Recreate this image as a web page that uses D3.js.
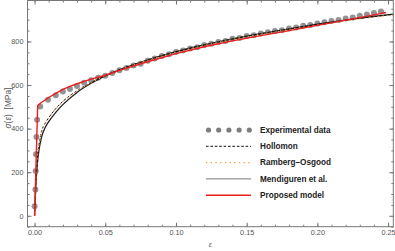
<!DOCTYPE html>
<html>
<head>
<meta charset="utf-8">
<script src="https://cdn.jsdelivr.net/npm/d3@7"></script>
<style>
  body { margin: 0; background: #fff; }
  svg { display: block; font-family: "Liberation Sans", Arial, sans-serif; }
  .tick text { fill: #555; font-size: 7.3px; }
  .tick line { stroke: #777; }
  .domain { display: none; }
</style>
</head>
<body>
<div id="chart"></div>
<script>
const FRAME_WIDTH = 395;
const FRAME_HEIGHT = 251;
const PLOT = {left: 27.5, right: 393.3, top: 0.5, bottom: 226.7};

// experimental points
const exp_strain = [0.0000, 0.0006, 0.0008, 0.0010, 0.0013, 0.0018, 0.004, 0.0095, 0.015, 0.020, 0.025, 0.030,
  0.035, 0.040, 0.045, 0.050, 0.055, 0.060, 0.065, 0.070, 0.075, 0.080, 0.085, 0.090, 0.095, 0.100,
  0.105, 0.110, 0.115, 0.120, 0.125, 0.130, 0.135, 0.140, 0.145, 0.150, 0.155, 0.160, 0.165, 0.170,
  0.175, 0.180, 0.185, 0.190, 0.195, 0.200, 0.205, 0.210, 0.215, 0.220, 0.225, 0.230, 0.235, 0.240, 0.245];
const exp_stress = [44, 121, 206, 282, 362, 441, 502, 532, 553, 570, 582, 596,
  610, 622, 633, 643, 655, 668, 678, 690, 698, 712, 722, 733, 741, 752,
  758, 768, 774, 784, 790, 798, 802, 812, 816, 825, 828, 836, 842, 848,
  852, 860, 864, 872, 876, 883, 888, 894, 898, 905, 910, 918, 924, 931, 938];

// model curves
const model_strain = [0, 0.0005, 0.001, 0.0015, 0.002, 0.003, 0.004, 0.005, 0.0075, 0.01, 0.015, 0.02,
  0.03, 0.04, 0.05, 0.06, 0.08, 0.10, 0.12, 0.14, 0.16, 0.18, 0.20, 0.22, 0.24, 0.2537];
const hollomon = [0, 95, 170, 225, 268, 322, 360, 388, 425, 450, 492, 525,
  574, 612, 644, 671, 715, 752, 783, 811, 835, 857, 878, 897, 914, 924];
const ramberg = [0, 92, 166, 222, 266, 320, 358, 386, 423, 449, 491, 524,
  573, 611, 643, 670, 714, 751, 782, 810, 834, 856, 876, 895, 911, 921];
const mendiguren = [0, 80, 150, 200, 240, 295, 333, 362, 405, 432, 475, 510,
  566, 608, 642, 670, 715, 753, 784, 812, 836, 858, 879, 898, 915, 925];

const proposed_strain = [0, 0.0022, 0.0028, 0.005, 0.01, 0.015, 0.02, 0.025, 0.03, 0.04, 0.05, 0.06,
  0.08, 0.10, 0.12, 0.14, 0.16, 0.18, 0.20, 0.22, 0.24, 0.2486];
const proposed = [0, 505, 510, 521, 543, 562, 580, 594, 606, 627, 645, 667,
  707, 744, 776, 803, 827, 850, 874, 898, 922, 933];

const x_major = [0, 0.05, 0.10, 0.15, 0.20, 0.25];
const x_minor = d3.range(0, 0.255, 0.01);
const y_major = [0, 200, 400, 600, 800];
const y_minor = d3.range(-50, 990, 50);

const legend_names = ["Experimental data", "Hollomon", "Ramberg\u2013Osgood", "Mendiguren et al.", "Proposed model"];

const SVG = d3.select("#chart")
  .append("svg")
    .attr("width", FRAME_WIDTH)
    .attr("height", FRAME_HEIGHT);

const x = d3.scaleLinear().domain([-0.005, 0.2537]).range([PLOT.left, PLOT.right]);
const y = d3.scaleLinear().domain([-50, 988]).range([PLOT.bottom, PLOT.top]);

// axes (ticks point inward like Mathematica frames)
SVG.append("g")
  .attr("transform", "translate(0," + PLOT.bottom + ")")
  .call(d3.axisBottom(x).tickValues(x_minor).tickSize(-2).tickFormat(""));
SVG.append("g")
  .attr("transform", "translate(0," + PLOT.bottom + ")")
  .call(d3.axisBottom(x).tickValues(x_major).tickSize(-4).tickPadding(3.5).tickFormat(d3.format(".2f")));
SVG.append("g")
  .attr("transform", "translate(0," + PLOT.top + ")")
  .call(d3.axisTop(x).tickValues(x_minor).tickSize(-2).tickFormat(""));
SVG.append("g")
  .attr("transform", "translate(0," + PLOT.top + ")")
  .call(d3.axisTop(x).tickValues(x_major).tickSize(-4).tickFormat(""));

SVG.append("g")
  .attr("transform", "translate(" + PLOT.left + ",0)")
  .call(d3.axisLeft(y).tickValues(y_minor).tickSize(-2).tickFormat(""));
SVG.append("g")
  .attr("transform", "translate(" + PLOT.left + ",0)")
  .call(d3.axisLeft(y).tickValues(y_major).tickSize(-4).tickPadding(4));
SVG.append("g")
  .attr("transform", "translate(" + PLOT.right + ",0)")
  .call(d3.axisRight(y).tickValues(y_minor).tickSize(-2).tickFormat(""));
SVG.append("g")
  .attr("transform", "translate(" + PLOT.right + ",0)")
  .call(d3.axisRight(y).tickValues(y_major).tickSize(-4).tickFormat(""));

// frame
SVG.append("rect")
  .attr("x", PLOT.left).attr("y", PLOT.top)
  .attr("width", PLOT.right - PLOT.left).attr("height", PLOT.bottom - PLOT.top)
  .attr("fill", "none").attr("stroke", "#777").attr("stroke-width", 1);

// axis labels
SVG.append("text")
  .attr("x", (PLOT.left + PLOT.right) / 2).attr("y", 247)
  .attr("text-anchor", "middle")
  .style("font-size", "7px").style("font-style", "italic").style("fill", "#555")
  .text("\u03b5");
SVG.append("text")
  .attr("transform", "translate(10.5," + 108 + ") rotate(-90)")
  .attr("text-anchor", "middle")
  .style("font-size", "8.4px").style("fill", "#555")
  .html("<tspan font-style='italic'>\u03c3</tspan>(<tspan font-style='italic'>\u03b5</tspan>)\u00a0\u00a0[MPa]");

const plotArea = SVG.append("g");
plotArea.append("clipPath").attr("id", "clip")
  .append("rect")
  .attr("x", PLOT.left).attr("y", PLOT.top)
  .attr("width", PLOT.right - PLOT.left).attr("height", PLOT.bottom - PLOT.top);
const inner = plotArea.append("g").attr("clip-path", "url(#clip)");

// experimental dots
inner.append("g")
  .selectAll("circle")
  .data(exp_strain.map((e, i) => [e, exp_stress[i]]))
  .enter()
  .append("circle")
    .attr("cx", (d) => x(d[0]))
    .attr("cy", (d) => y(d[1]))
    .attr("r", 3)
    .style("fill", "#808080")
    .style("opacity", 0.85);

const line = d3.line().curve(d3.curveMonotoneX).x((d) => x(d[0])).y((d) => y(d[1]));
const lineLin = d3.line().x((d) => x(d[0])).y((d) => y(d[1]));

const styles = [
  null,
  {stroke: "#111", width: 1, dash: "2.6,1.8"},
  {stroke: "#f39b3a", width: 1.1, dash: "1.3,3.4"},
  {stroke: "#222", width: 1.3, dash: null},
  {stroke: "#ee1c1c", width: 1.4, dash: null}
];

inner.append("path")
  .datum(model_strain.map((e, i) => [e, mendiguren[i]]))
  .attr("d", line)
  .attr("fill", "none").attr("stroke", styles[3].stroke).attr("stroke-width", styles[3].width);
inner.append("path")
  .datum(model_strain.map((e, i) => [e, hollomon[i]]))
  .attr("d", line)
  .attr("fill", "none").attr("stroke", styles[1].stroke).attr("stroke-width", styles[1].width)
  .attr("stroke-dasharray", styles[1].dash);
inner.append("path")
  .datum(model_strain.map((e, i) => [e, ramberg[i]]))
  .attr("d", line)
  .attr("fill", "none").attr("stroke", styles[2].stroke).attr("stroke-width", styles[2].width)
  .attr("stroke-dasharray", styles[2].dash);
inner.append("path")
  .datum(proposed_strain.map((e, i) => [e, proposed[i]]))
  .attr("d", lineLin)
  .attr("fill", "none").attr("stroke", styles[4].stroke).attr("stroke-width", styles[4].width);

// legend
const LEG_X0 = 206, LEG_X1 = 251, LEG_TEXT = 260, LEG_Y0 = 130, LEG_DY = 16.3;
const legend = SVG.append("g");
legend_names.forEach((name, i) => {
  const ly = LEG_Y0 + i * LEG_DY;
  if (i == 0) {
    legend.selectAll("circle.leg")
      .data(d3.range(5))
      .enter()
      .append("circle")
        .attr("class", "leg")
        .attr("cx", (d) => 208.5 + d * 10.2)
        .attr("cy", ly)
        .attr("r", 2.6)
        .style("fill", "#7d7d7d");
  } else {
    const s = styles[i];
    legend.append("line")
      .attr("x1", LEG_X0).attr("x2", LEG_X1).attr("y1", ly).attr("y2", ly)
      .attr("stroke", i == 3 ? "#777" : s.stroke)
      .attr("stroke-width", i == 3 ? 1 : s.width)
      .attr("stroke-dasharray", s.dash);
  }
  legend.append("text")
    .attr("x", LEG_TEXT).attr("y", ly)
    .attr("dy", "0.35em")
    .style("font-size", "8.2px").style("font-weight", "bold").style("fill", "#222")
    .text(name);
});
</script>
</body>
</html>
